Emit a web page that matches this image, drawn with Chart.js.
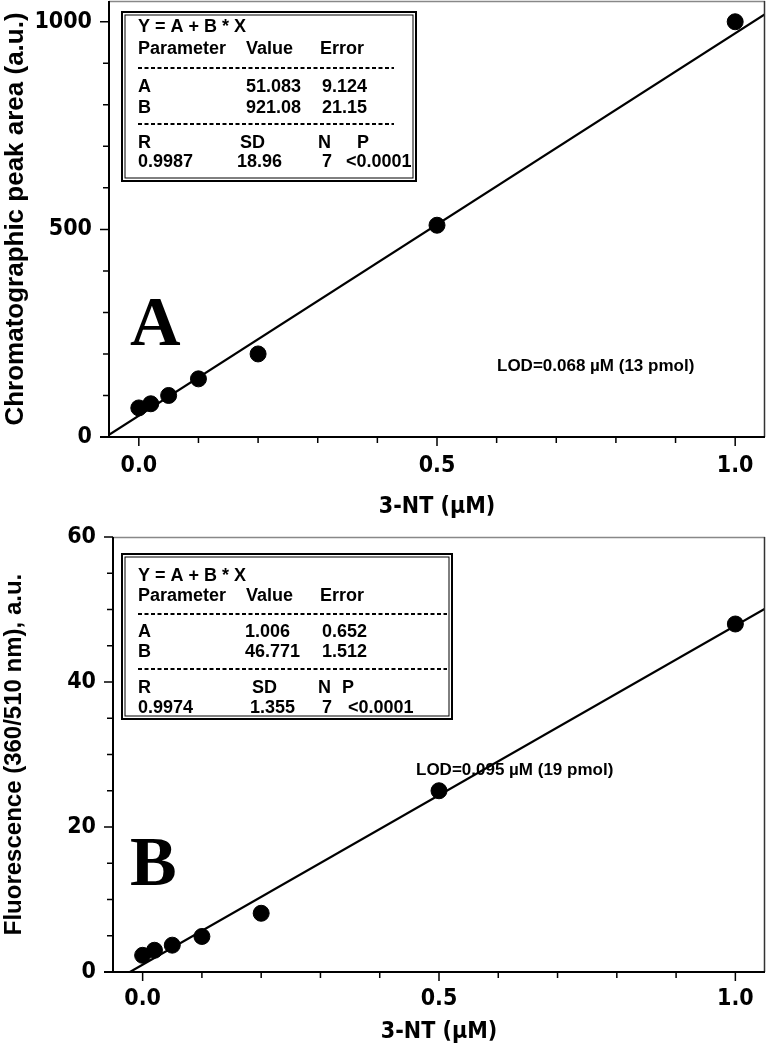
<!DOCTYPE html>
<html>
<head>
<meta charset="utf-8">
<script src="https://cdn.jsdelivr.net/npm/chart.js@4.4.1/dist/chart.umd.min.js"></script>
<style>
  html, body { margin: 0; padding: 0; background: #fff; }
  .panel { position: absolute; left: 0; width: 767px; height: 525px; }
</style>
</head>
<body>
<div class="panel" style="top:0"><canvas id="chartA" width="767" height="525"></canvas></div>
<div class="panel" style="top:525px"><canvas id="chartB" width="767" height="525"></canvas></div>
<script>
// concentrations of 3-NT (uM)
const concentrations = [0, 0.02, 0.05, 0.1, 0.2, 0.5, 1.0];

// panel A: chromatographic peak area
const peakArea = [70, 80, 100, 140, 200, 510, 1000];
const fitAx = [-0.05, 1.05];
const fitAy = [5.0, 1018.2];

// panel B: fluorescence
const fluorescence = [2.3, 3.0, 3.7, 4.9, 8.1, 25.0, 48.0];
const fitBx = [-0.0215, 1.05];
const fitBy = [0, 50.1];

// tick positions and labels
const xTicks = [0, 0.1, 0.2, 0.3, 0.4, 0.5, 0.6, 0.7, 0.8, 0.9, 1.0];
const xLabelTicks = [0, 0.5, 1.0];
const yLabelTicksA = [0, 500, 1000];
const yLabelTicksB = [0, 20, 40, 60];

// text of the statistics boxes
const statsA = [
  ['Y = A + B * X'],
  ['Parameter', 'Value', 'Error'],
  null,
  ['A', '51.083', '9.124'],
  ['B', '921.08', '21.15'],
  null,
  ['R', 'SD', 'N', 'P'],
  ['0.9987', '18.96', '7', '<0.0001']
];
const statsB = [
  ['Y = A + B * X'],
  ['Parameter', 'Value', 'Error'],
  null,
  ['A', '1.006', '0.652'],
  ['B', '46.771', '1.512'],
  null,
  ['R', 'SD', 'N', 'P'],
  ['0.9974', '1.355', '7', '<0.0001']
];

const narrow = "'Liberation Sans Narrow', 'DejaVu Sans Condensed', Arial, sans-serif";
const sans = "'Liberation Sans', Arial, sans-serif";

function isIn(list, v) {
  return list.some(t => Math.abs(t - v) < 1e-6);
}

// axes, ticks, frame and annotations
const framePlugin = {
  id: 'frame',
  afterDatasetsDraw(chart, args, opts) {
    const ctx = chart.ctx;
    const a = chart.chartArea;
    const xs = chart.scales.x, ys = chart.scales.y;
    ctx.save();

    // light frame top + right
    ctx.strokeStyle = '#888';
    ctx.lineWidth = 1.5;
    ctx.beginPath();
    ctx.moveTo(a.left, a.top + 0.5);
    ctx.lineTo(a.right, a.top + 0.5);
    ctx.stroke();
    ctx.strokeStyle = '#333';
    ctx.beginPath();
    ctx.moveTo(a.right - 0.5, a.top);
    ctx.lineTo(a.right - 0.5, a.bottom);
    ctx.stroke();

    // main axes
    ctx.strokeStyle = '#000';
    ctx.lineWidth = 2;
    ctx.beginPath();
    ctx.moveTo(a.left, a.top);
    ctx.lineTo(a.left, a.bottom);
    ctx.moveTo(a.left - 9, a.bottom);
    ctx.lineTo(a.right, a.bottom);
    ctx.stroke();

    // ticks
    ctx.lineWidth = 1.5;
    ctx.beginPath();
    xs.ticks.forEach(t => {
      const px = xs.getPixelForValue(t.value);
      const len = isIn(xLabelTicks, t.value) ? 9 : 6;
      ctx.moveTo(px, a.bottom);
      ctx.lineTo(px, a.bottom + len);
    });
    ys.ticks.forEach(t => {
      const py = ys.getPixelForValue(t.value);
      const len = isIn(opts.yMajor, t.value) ? 9 : 6;
      ctx.moveTo(a.left, py);
      ctx.lineTo(a.left - len, py);
    });
    ctx.stroke();

    // statistics box
    const b = opts.box;
    ctx.lineWidth = 2;
    ctx.strokeRect(b.x, b.y, b.w, b.h);
    ctx.lineWidth = 1;
    ctx.strokeRect(b.x + 3, b.y + 3, b.w - 6, b.h - 6);
    ctx.fillStyle = '#000';
    ctx.font = 'bold 18px ' + sans;
    ctx.textBaseline = 'middle';
    ctx.textAlign = 'left';
    opts.rows.forEach((row, i) => {
      const y = b.y + b.rowY[i];
      if (row === null) {
        ctx.save();
        ctx.lineWidth = 2;
        ctx.setLineDash([4, 2.5]);
        ctx.beginPath();
        ctx.moveTo(b.x + 16, y);
        ctx.lineTo(b.x + b.dashW, y);
        ctx.stroke();
        ctx.restore();
        return;
      }
      let cols = [16];
      if (row.length === 3) cols = (i === 1) ? b.colsHead : b.colsVal;
      if (row.length === 4) cols = (i === 6) ? b.colsR : b.colsRV;
      row.forEach((txt, j) => ctx.fillText(txt, b.x + cols[j], y));
    });

    // limit of detection
    ctx.font = 'bold ' + opts.lod.size + 'px ' + sans;
    ctx.fillText(opts.lod.text, opts.lod.x, opts.lod.y);

    // panel letter
    ctx.font = "bold 70px 'Liberation Serif', 'Times New Roman', serif";
    ctx.textBaseline = 'alphabetic';
    ctx.fillText(opts.letter.text, opts.letter.x, opts.letter.y);

    ctx.restore();
  }
};

function makeChart(id, yData, fitX, fitY, yMax, yStep, yMajor, yTitle, dims, frameOpts) {
  const ctx = document.getElementById(id).getContext('2d');
  return new Chart(ctx, {
    type: 'scatter',
    data: {
      datasets: [
        {
          data: fitX.map((x, i) => ({ x: x, y: fitY[i] })),
          showLine: true,
          borderColor: '#000',
          borderWidth: 2.2,
          pointRadius: 0,
          fill: false
        },
        {
          data: concentrations.map((x, i) => ({ x: x, y: yData[i] })),
          backgroundColor: '#000',
          borderColor: '#000',
          pointRadius: 8,
          pointHoverRadius: 8
        }
      ]
    },
    options: {
      responsive: false,
      animation: false,
      events: [],
      layout: { autoPadding: false, padding: { left: 0, right: 2, top: dims.top, bottom: 0 } },
      plugins: {
        legend: { display: false },
        tooltip: { enabled: false },
        frame: frameOpts
      },
      scales: {
        x: {
          type: 'linear',
          min: -0.05,
          max: 1.05,
          afterBuildTicks: s => { s.ticks = xTicks.map(v => ({ value: v })); },
          grid: { display: true, drawOnChartArea: false, drawTicks: true, tickLength: 9, color: 'rgba(0,0,0,0)' },
          border: { display: false },
          ticks: {
            maxRotation: 0,
            autoSkip: false,
            padding: dims.xPad,
            color: '#000',
            font: { family: narrow, size: 23, weight: 'bold' },
            callback: v => isIn(xLabelTicks, v) ? v.toFixed(1) : ''
          },
          title: {
            display: true,
            text: '3-NT (\u00b5M)',
            color: '#000',
            font: { family: narrow, size: 23, weight: 'bold' },
            padding: { top: dims.xtPad }
          },
          afterFit: s => {
            s.height = dims.xh;
            s.paddingLeft = 0;
            s.paddingRight = 0;
          }
        },
        y: {
          min: 0,
          max: yMax,
          grid: { display: true, drawOnChartArea: false, drawTicks: true, tickLength: 9, color: 'rgba(0,0,0,0)' },
          border: { display: false },
          ticks: {
            stepSize: yStep,
            includeBounds: false,
            autoSkip: false,
            padding: 8,
            color: '#000',
            font: { family: narrow, size: 23, weight: 'bold' },
            callback: v => isIn(yMajor, v) ? String(v) : ''
          },
          title: {
            display: true,
            text: yTitle,
            color: '#000',
            font: { family: sans, size: dims.ytSize, weight: 'bold' },
            padding: { top: 0, bottom: 0 }
          },
          afterFit: s => {
            s.width = dims.yw;
            s.paddingTop = 0;
            s.paddingBottom = 0;
          }
        }
      }
    },
    plugins: [framePlugin]
  });
}

makeChart('chartA', peakArea, fitAx, fitAy, 1050, 100, yLabelTicksA,
  'Chromatographic peak area (a.u.)',
  { top: 1, xh: 88, yw: 109, ytSize: 26, xPad: 6, xtPad: 25 },
  {
    yMajor: yLabelTicksA,
    rows: statsA,
    box: {
      x: 122, y: 12, w: 294, h: 169, dashW: 272,
      rowY: [15, 37, 56, 75, 96, 112, 131, 150],
      colsHead: [16, 124, 198], colsVal: [16, 124, 200],
      colsR: [16, 118, 196, 235], colsRV: [16, 115, 200, 224]
    },
    lod: { text: 'LOD=0.068 \u00b5M (13 pmol)', x: 497, y: 366, size: 17 },
    letter: { text: 'A', x: 130, y: 345 }
  });

makeChart('chartB', fluorescence, fitBx, fitBy, 60, 5, yLabelTicksB,
  'Fluorescence (360/510 nm), a.u.',
  { top: 12, xh: 78, yw: 113, ytSize: 24, xPad: 4, xtPad: 13 },
  {
    yMajor: yLabelTicksB,
    rows: statsB,
    box: {
      x: 122, y: 29, w: 330, h: 165, dashW: 325,
      rowY: [22, 42, 60, 78, 98, 115, 134, 154],
      colsHead: [16, 124, 198], colsVal: [16, 123, 200],
      colsR: [16, 130, 196, 220], colsRV: [16, 128, 200, 226]
    },
    lod: { text: 'LOD=0.095 \u00b5M (19 pmol)', x: 416, y: 245, size: 17 },
    letter: { text: 'B', x: 130, y: 360 }
  });
</script>
</body>
</html>
